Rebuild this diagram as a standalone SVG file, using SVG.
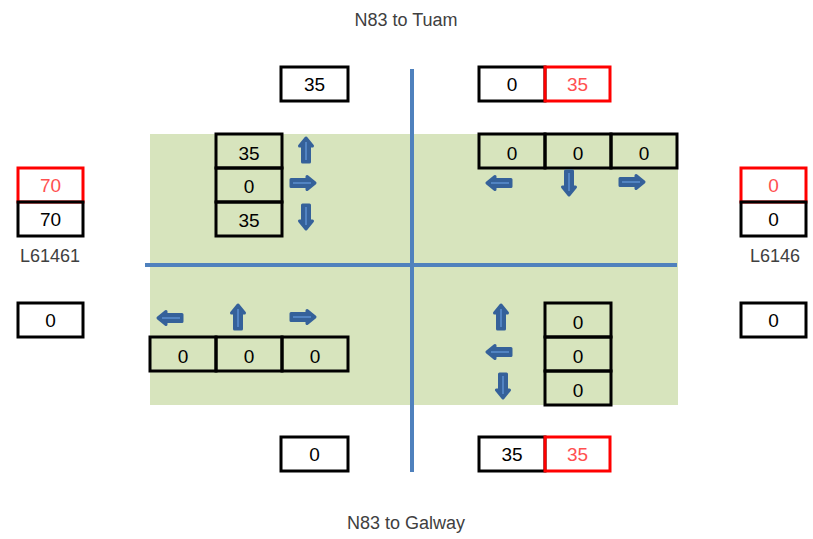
<svg xmlns="http://www.w3.org/2000/svg" xmlns:xlink="http://www.w3.org/1999/xlink" width="813" height="539" viewBox="0 0 813 539">
  <style>
    .cell { fill: none; stroke: #000; stroke-width: 3; }
    .red { fill: none; stroke: #ff0000; stroke-width: 3; }
    .num { font-family: "Liberation Sans Narrow", "Liberation Sans", sans-serif; font-size: 19px; fill: #000; text-anchor: middle; }
    .rnum { font-family: "Liberation Sans Narrow", "Liberation Sans", sans-serif; font-size: 19px; fill: #ff5050; text-anchor: middle; }
    .lbl { font-family: "Liberation Sans Narrow", "Liberation Sans", sans-serif; font-size: 18px; fill: #404040; text-anchor: middle; }
    .road { stroke: #4f81bd; stroke-width: 4; fill: none; }
  </style>
  <defs>
    <!-- block arrow pointing right, centred on the origin -->
    <g id="arr">
      <path d="M-12,-3.5 H4 V-6.5 L12,0 L4,6.5 V3.5 H-12 Z" fill="#35619a" stroke="#35619a" stroke-width="3" stroke-linejoin="round"/>
      <line x1="-10" y1="0" x2="8" y2="0" stroke="#5b8fcf" stroke-width="1.5"/>
    </g>
  </defs>

  <!-- junction area -->
  <rect id="area" x="150" y="134" width="528" height="271" fill="#d7e4bd"/>

  <g id="roads">
    <line class="road" x1="412" y1="69" x2="412" y2="472"/>
    <line class="road" x1="145" y1="265" x2="677" y2="265"/>
  </g>

  <g id="titles">
    <text class="lbl" x="406" y="26">N83 to Tuam</text>
    <text class="lbl" x="406" y="529">N83 to Galway</text>
    <text class="lbl" x="50" y="262">L61461</text>
    <text class="lbl" x="775" y="262">L6146</text>
  </g>

  <!-- approach totals -->
  <g id="north-in">
    <rect class="cell" x="281" y="67" width="67" height="34"/>
    <text class="num" x="314.5" y="91">35</text>
  </g>
  <g id="north-out">
    <rect class="cell" x="479" y="67" width="66" height="34"/>
    <text class="num" x="512" y="91">0</text>
    <rect class="red" x="545" y="67" width="65" height="34"/>
    <text class="rnum" x="577.5" y="91">35</text>
  </g>
  <g id="west-out">
    <rect class="red" x="18" y="168" width="65" height="34"/>
    <text class="rnum" x="50.5" y="192">70</text>
    <rect class="cell" x="18" y="202" width="65" height="34"/>
    <text class="num" x="50.5" y="226">70</text>
  </g>
  <g id="west-in">
    <rect class="cell" x="18" y="303" width="65" height="34"/>
    <text class="num" x="50.5" y="327">0</text>
  </g>
  <g id="east-out">
    <rect class="red" x="741" y="168" width="65" height="34"/>
    <text class="rnum" x="773.5" y="192">0</text>
    <rect class="cell" x="741" y="202" width="65" height="34"/>
    <text class="num" x="773.5" y="226">0</text>
  </g>
  <g id="east-in">
    <rect class="cell" x="741" y="303" width="65" height="34"/>
    <text class="num" x="773.5" y="327">0</text>
  </g>
  <g id="south-in">
    <rect class="cell" x="281" y="437" width="67" height="34"/>
    <text class="num" x="314.5" y="461">0</text>
  </g>
  <g id="south-out">
    <rect class="cell" x="479" y="437" width="66" height="34"/>
    <text class="num" x="512" y="461">35</text>
    <rect class="red" x="545" y="437" width="65" height="34"/>
    <text class="rnum" x="577.5" y="461">35</text>
  </g>

  <!-- turning movements, north-west quadrant -->
  <g id="nw-turns">
    <rect class="cell" x="216" y="134" width="66" height="34"/>
    <text class="num" x="249" y="160">35</text>
    <rect class="cell" x="216" y="168" width="66" height="34"/>
    <text class="num" x="249" y="193">0</text>
    <rect class="cell" x="216" y="202" width="66" height="34"/>
    <text class="num" x="249" y="227">35</text>
  </g>
  <!-- north-east quadrant -->
  <g id="ne-turns">
    <rect class="cell" x="479" y="134" width="66" height="34"/>
    <text class="num" x="512" y="160">0</text>
    <rect class="cell" x="545" y="134" width="66" height="34"/>
    <text class="num" x="578" y="160">0</text>
    <rect class="cell" x="611" y="134" width="66" height="34"/>
    <text class="num" x="644" y="160">0</text>
  </g>
  <!-- south-west quadrant -->
  <g id="sw-turns">
    <rect class="cell" x="150" y="337" width="66" height="34"/>
    <text class="num" x="183" y="363">0</text>
    <rect class="cell" x="216" y="337" width="66" height="34"/>
    <text class="num" x="249" y="363">0</text>
    <rect class="cell" x="282" y="337" width="66" height="34"/>
    <text class="num" x="315" y="363">0</text>
  </g>
  <!-- south-east quadrant -->
  <g id="se-turns">
    <rect class="cell" x="545" y="303" width="66" height="34"/>
    <text class="num" x="578" y="329">0</text>
    <rect class="cell" x="545" y="337" width="66" height="34"/>
    <text class="num" x="578" y="363">0</text>
    <rect class="cell" x="545" y="371" width="66" height="34"/>
    <text class="num" x="578" y="397">0</text>
  </g>

  <g id="arrows">
    <use xlink:href="#arr" transform="translate(306,150) rotate(-90)"/>
    <use xlink:href="#arr" transform="translate(303,183)"/>
    <use xlink:href="#arr" transform="translate(306,217) rotate(90)"/>

    <use xlink:href="#arr" transform="translate(499,183) rotate(180)"/>
    <use xlink:href="#arr" transform="translate(569,183) rotate(90)"/>
    <use xlink:href="#arr" transform="translate(632,182)"/>

    <use xlink:href="#arr" transform="translate(170,318) rotate(180)"/>
    <use xlink:href="#arr" transform="translate(238,317) rotate(-90)"/>
    <use xlink:href="#arr" transform="translate(303,317)"/>

    <use xlink:href="#arr" transform="translate(501,317) rotate(-90)"/>
    <use xlink:href="#arr" transform="translate(499,352) rotate(180)"/>
    <use xlink:href="#arr" transform="translate(503,386) rotate(90)"/>
  </g>
</svg>
